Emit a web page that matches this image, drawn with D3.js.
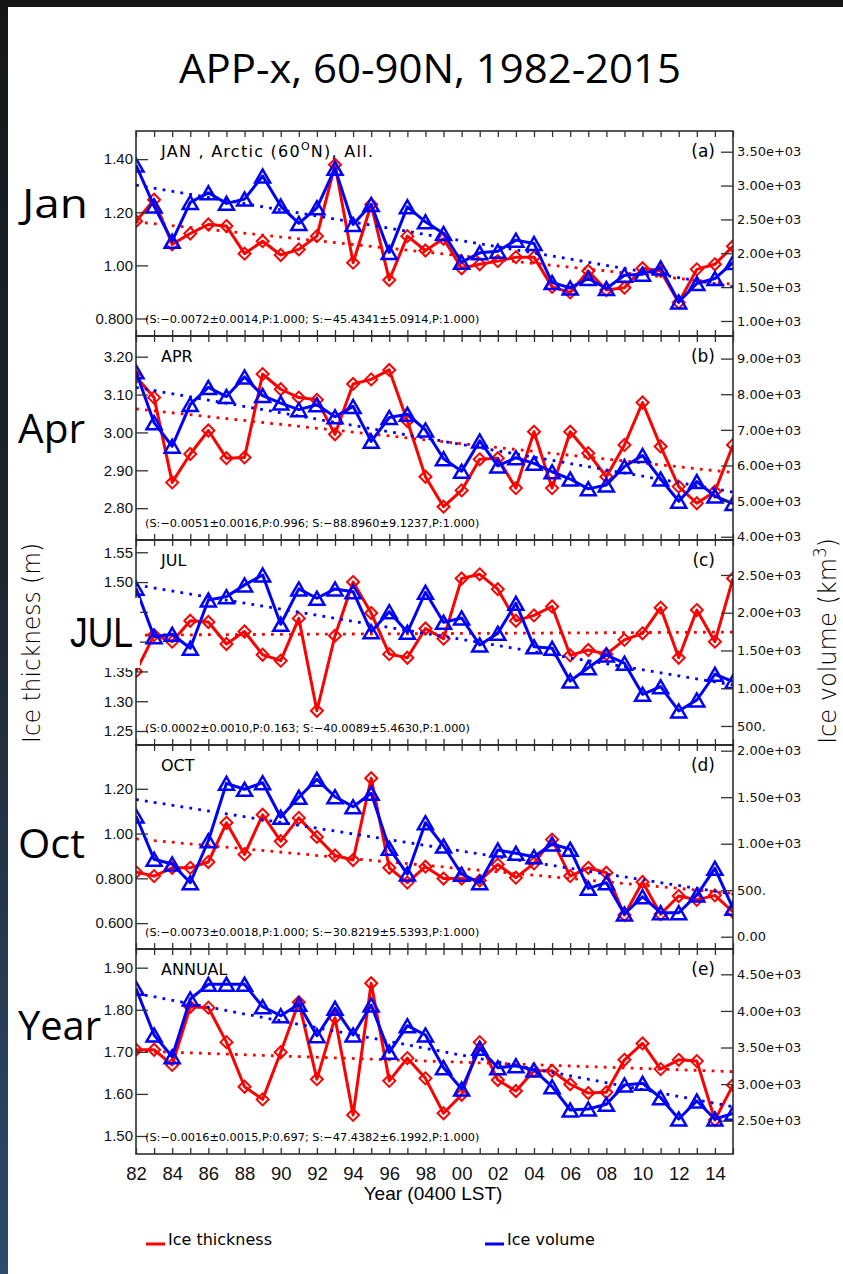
<!DOCTYPE html>
<html>
<head>
<meta charset="utf-8">
<script src="https://cdn.jsdelivr.net/npm/d3@7/dist/d3.min.js"></script>
<style>
  html, body { margin: 0; padding: 0; background: #fff; }
  svg { display: block; }
</style>
</head>
<body>
<svg id="chart"></svg>
<script>
// ---- data ----
const years = [1982, 1983, 1984, 1985, 1986, 1987, 1988, 1989, 1990, 1991, 1992, 1993, 1994, 1995, 1996, 1997, 1998,
  1999, 2000, 2001, 2002, 2003, 2004, 2005, 2006, 2007, 2008, 2009, 2010, 2011, 2012, 2013, 2014, 2015];
const xTickYears = [1982, 1984, 1986, 1988, 1990, 1992, 1994, 1996, 1998, 2000, 2002, 2004, 2006, 2008, 2010, 2012, 2014];
const xTickLabels = ["82", "84", "86", "88", "90", "92", "94", "96", "98", "00", "02", "04", "06", "08", "10", "12", "14"];

// (a) January
const janThickness = [1.166, 1.247, 1.079, 1.12, 1.154, 1.148, 1.044, 1.091, 1.039, 1.06, 1.11, 1.379, 1.01, 1.229, 0.945,
  1.11, 1.056, 1.10, 0.989, 1.004, 1.016, 1.031, 1.031, 0.919, 0.898, 0.979, 0.907, 0.916, 0.989, 0.979, 0.860, 0.985, 1.004, 1.072];
const janVolume = [3303, 2697, 2179, 2751, 2893, 2737, 2800, 3141, 2697, 2441, 2672, 3254, 2426, 2722, 2012, 2686, 2464,
  2293, 1868, 2006, 2031, 2194, 2145, 1568, 1488, 1627, 1479, 1676, 1691, 1784, 1281, 1553, 1627, 1864];
const janThickTrend = [1.164, 0.929];
const janVolTrend = [3007, 1503];

// (b) April
const aprThickness = [3.147, 3.092, 2.868, 2.943, 3.005, 2.932, 2.934, 3.154, 3.114, 3.092, 3.086, 2.995, 3.128, 3.140, 3.165,
  3.030, 2.883, 2.804, 2.847, 2.929, 2.932, 2.853, 3.002, 2.853, 3.002, 2.945, 2.883, 2.967, 3.079, 2.963, 2.857, 2.813, 2.844, 2.967];
const aprVolume = [8633, 7201, 6540, 7713, 8192, 7934, 8485, 7961, 7752, 7567, 7705, 7366, 7658, 6678, 7347, 7438, 6997,
  6190, 5840, 6690, 5989, 6218, 6061, 5824, 5620, 5344, 5455, 5970, 6281, 5620, 4997, 5548, 5143, 4931];
const aprThickTrend = [3.062, 2.894];
const aprVolTrend = [8192, 5254];

// (c) July
const julThickness = [1.350, 1.411, 1.400, 1.435, 1.433, 1.396, 1.417, 1.378, 1.368, 1.439, 1.284, 1.410, 1.500, 1.448, 1.379,
  1.373, 1.422, 1.405, 1.506, 1.513, 1.488, 1.435, 1.444, 1.459, 1.377, 1.386, 1.379, 1.403, 1.414, 1.457, 1.373, 1.453, 1.400, 1.506];
const julVolume = [2324, 1683, 1714, 1529, 2169, 2213, 2368, 2500, 1847, 2315, 2191, 2315, 2279, 1749, 2014, 1741, 2271,
  1873, 1930, 1573, 1728, 2125, 1550, 1529, 1096, 1272, 1440, 1331, 920, 1021, 699, 844, 1185, 1088];
const julThickTrend = [1.411, 1.416];
const julVolTrend = [2368, 1043];

// (d) October
const octThickness = [0.828, 0.810, 0.847, 0.847, 0.873, 1.048, 0.907, 1.084, 0.966, 1.070, 0.985, 0.902, 0.882, 1.247, 0.847,
  0.781, 0.852, 0.799, 0.799, 0.790, 0.862, 0.803, 0.867, 0.973, 0.810, 0.847, 0.825, 0.636, 0.784, 0.640, 0.721, 0.704, 0.724, 0.650];
const octVolume = [1298, 832, 782, 581, 1032, 1649, 1585, 1656, 1284, 1499, 1692, 1505, 1398, 1542, 950, 674, 1226,
  975, 672, 581, 932, 897, 860, 997, 940, 520, 581, 244, 430, 258, 258, 448, 735, 305];
const octThickTrend = [0.976, 0.733];
const octVolTrend = [1475, 458];

// (e) Annual
const annThickness = [1.705, 1.705, 1.669, 1.807, 1.805, 1.723, 1.617, 1.587, 1.699, 1.818, 1.635, 1.781, 1.550, 1.863, 1.631,
  1.685, 1.637, 1.554, 1.598, 1.723, 1.633, 1.607, 1.655, 1.655, 1.623, 1.602, 1.604, 1.681, 1.720, 1.659, 1.681, 1.678, 1.538, 1.621];
const annVolume = [4309, 3671, 3374, 4163, 4363, 4363, 4363, 4057, 3935, 4090, 3661, 4036, 3671, 4081, 3434, 3798, 3671,
  3224, 2933, 3489, 3224, 3251, 3193, 2965, 2646, 2660, 2724, 2988, 3011, 2814, 2523, 2769, 2523, 2601];
const annThickTrend = [1.702, 1.653];
const annVolTrend = [4240, 2691];

// axis ticks per panel
const janThickTicks = [0.8, 1.0, 1.2, 1.4], janThickLabels = ["0.800", "1.00", "1.20", "1.40"];
const janVolTicks = [1000, 1500, 2000, 2500, 3000, 3500], janVolLabels = ["1.00e+03", "1.50e+03", "2.00e+03", "2.50e+03", "3.00e+03", "3.50e+03"];
const aprThickTicks = [2.8, 2.9, 3.0, 3.1, 3.2], aprThickLabels = ["2.80", "2.90", "3.00", "3.10", "3.20"];
const aprVolTicks = [4000, 5000, 6000, 7000, 8000, 9000], aprVolLabels = ["4.00e+03", "5.00e+03", "6.00e+03", "7.00e+03", "8.00e+03", "9.00e+03"];
// 1.40 and 1.45 sit under the "JUL" label box in the figure
const julThickTicks = [1.25, 1.30, 1.35, 1.40, 1.45, 1.50, 1.55], julThickLabels = ["1.25", "1.30", "1.35", "", "", "1.50", "1.55"];
const julVolTicks = [500, 1000, 1500, 2000, 2500], julVolLabels = ["500.", "1.00e+03", "1.50e+03", "2.00e+03", "2.50e+03"];
const octThickTicks = [0.6, 0.8, 1.0, 1.2], octThickLabels = ["0.600", "0.800", "1.00", "1.20"];
const octVolTicks = [0, 500, 1000, 1500, 2000], octVolLabels = ["0.00", "500.", "1.00e+03", "1.50e+03", "2.00e+03"];
const annThickTicks = [1.5, 1.6, 1.7, 1.8, 1.9], annThickLabels = ["1.50", "1.60", "1.70", "1.80", "1.90"];
const annVolTicks = [2500, 3000, 3500, 4000, 4500], annVolLabels = ["2.50e+03", "3.00e+03", "3.50e+03", "4.00e+03", "4.50e+03"];

// ---- layout ----
const W = 843, H = 1274;
const plotLeft = 136, plotRight = 733;
const panelEdges = [131, 336, 540, 745, 949, 1154];
const RED = "#ff0000", BLUE = "#0000ff";

const panels = [
  { name: "JAN", tag: "(a)", thick: janThickness, vol: janVolume, thickTrend: janThickTrend, volTrend: janVolTrend,
    thickDomain: [0.734, 1.506], volDomain: [778, 3806],
    thickTicks: janThickTicks, thickLabels: janThickLabels, volTicks: janVolTicks, volLabels: janVolLabels,
    stats: "(S:\u22120.0072\u00b10.0014,P:1.000; S:\u221245.4341\u00b15.0914,P:1.000)" },
  { name: "APR", tag: "(b)", thick: aprThickness, vol: aprVolume, thickTrend: aprThickTrend, volTrend: aprVolTrend,
    thickDomain: [2.716, 3.2546], volDomain: [3909, 9634],
    thickTicks: aprThickTicks, thickLabels: aprThickLabels, volTicks: aprVolTicks, volLabels: aprVolLabels,
    stats: "(S:\u22120.0051\u00b10.0016,P:0.996; S:\u221288.8960\u00b19.1237,P:1.000)" },
  { name: "JUL", tag: "(c)", thick: julThickness, vol: julVolume, thickTrend: julThickTrend, volTrend: julVolTrend,
    thickDomain: [1.2265, 1.5706], volDomain: [248, 2963],
    thickTicks: julThickTicks, thickLabels: julThickLabels, volTicks: julVolTicks, volLabels: julVolLabels,
    stats: "(S:0.0002\u00b10.0010,P:0.163; S:\u221240.0089\u00b15.4630,P:1.000)" },
  { name: "OCT", tag: "(d)", thick: octThickness, vol: octVolume, thickTrend: octThickTrend, volTrend: octVolTrend,
    thickDomain: [0.4844, 1.3956], volDomain: [-132, 2061],
    thickTicks: octThickTicks, thickLabels: octThickLabels, volTicks: octVolTicks, volLabels: octVolLabels,
    stats: "(S:\u22120.0073\u00b10.0018,P:1.000; S:\u221230.8219\u00b15.5393,P:1.000)" },
  { name: "ANNUAL", tag: "(e)", thick: annThickness, vol: annVolume, thickTrend: annThickTrend, volTrend: annVolTrend,
    thickDomain: [1.4572, 1.9444], volDomain: [2045, 4846],
    thickTicks: annThickTicks, thickLabels: annThickLabels, volTicks: annVolTicks, volLabels: annVolLabels,
    stats: "(S:\u22120.0016\u00b10.0015,P:0.697; S:\u221247.4382\u00b16.1992,P:1.000)" }
];

const svg = d3.select("#chart").attr("width", W).attr("height", H);

// slide background with dark frame on top/left
const defs = svg.append("defs");
const grad = defs.append("linearGradient").attr("id", "edge").attr("x1", 0).attr("y1", 0).attr("x2", 0).attr("y2", 1);
grad.append("stop").attr("offset", "0%").attr("stop-color", "#161616");
grad.append("stop").attr("offset", "45%").attr("stop-color", "#1f2630");
grad.append("stop").attr("offset", "100%").attr("stop-color", "#2c4a6c");
svg.append("rect").attr("width", W).attr("height", H).attr("fill", "#fff");
svg.append("rect").attr("x", 0).attr("y", 0).attr("width", 8).attr("height", H).attr("fill", "url(#edge)");
svg.append("rect").attr("x", 0).attr("y", 0).attr("width", W).attr("height", 7).attr("fill", "#161616");

svg.append("text")
  .attr("x", 430).attr("y", 83)
  .attr("text-anchor", "middle")
  .attr("textLength", 502).attr("lengthAdjust", "spacingAndGlyphs")
  .style("font-family", "'Open Sans', sans-serif").style("font-size", "40px").style("fill", "#000")
  .text("APP-x, 60-90N, 1982-2015");

const x = d3.scaleLinear().domain([1982, 2015]).range([plotLeft, plotRight]);

const markerTri = "M-7.5,6.5L0,-6.5L7.5,6.5Z";
const markerDia = "M0,-6L6,0L0,6L-6,0Z";

panels.forEach((p, i) => {
  const top = panelEdges[i], bottom = panelEdges[i + 1];
  const yL = d3.scaleLinear().domain(p.thickDomain).range([bottom, top]);
  const yR = d3.scaleLinear().domain(p.volDomain).range([bottom, top]);
  const g = svg.append("g");

  defs.append("clipPath").attr("id", "clip" + i)
    .append("rect").attr("x", plotLeft).attr("y", top).attr("width", plotRight - plotLeft).attr("height", bottom - top);
  const plot = g.append("g").attr("clip-path", "url(#clip" + i + ")");

  const series = (vals, yScale, color, shape, sw) => {
    const pts = years.map((yr, k) => [x(yr), yScale(vals[k])]);
    plot.append("path").attr("d", d3.line()(pts))
      .attr("fill", "none").attr("stroke", color).attr("stroke-width", 3).attr("stroke-linejoin", "round");
    plot.selectAll(null).data(pts).enter().append("path")
      .attr("transform", d => "translate(" + d[0] + "," + d[1] + ")")
      .attr("d", shape).attr("fill", "none").attr("stroke", color).attr("stroke-width", sw);
  };
  const trend = (ends, yScale, color) => {
    plot.append("path")
      .attr("d", d3.line()([[x(1982), yScale(ends[0])], [x(2015), yScale(ends[1])]]))
      .attr("stroke", color).attr("stroke-width", 2.8).attr("stroke-dasharray", "2.8,6.2").attr("fill", "none");
  };

  series(p.thick, yL, RED, markerDia, 2);
  trend(p.thickTrend, yL, RED);
  series(p.vol, yR, BLUE, markerTri, 2.5);
  trend(p.volTrend, yR, BLUE);

  // frame
  g.append("rect").attr("x", plotLeft).attr("y", top).attr("width", plotRight - plotLeft).attr("height", bottom - top)
    .attr("fill", "none").attr("stroke", "#222").attr("stroke-width", 1.5);

  // year ticks on top and bottom
  g.append("g").attr("transform", "translate(0," + top + ")")
    .call(d3.axisBottom(x).tickValues(years).tickSizeInner(6).tickSizeOuter(0).tickFormat(""))
    .call(a => a.select(".domain").remove());
  g.append("g").attr("transform", "translate(0," + bottom + ")")
    .call(d3.axisTop(x).tickValues(years).tickSizeInner(6).tickSizeOuter(0).tickFormat(""))
    .call(a => a.select(".domain").remove());

  // left axis: thickness
  g.append("g").attr("transform", "translate(" + plotLeft + ",0)")
    .call(d3.axisLeft(yL).tickValues(p.thickTicks).tickFormat((d, k) => p.thickLabels[k])
      .tickSizeInner(-12).tickSizeOuter(0).tickPadding(3))
    .call(a => a.select(".domain").remove())
    .call(a => a.selectAll("text").style("font-family", "'Liberation Sans', Arial, sans-serif").style("font-size", "15px").attr("fill", "#111"));

  // right axis: volume
  g.append("g").attr("transform", "translate(" + plotRight + ",0)")
    .call(d3.axisRight(yR).tickValues(p.volTicks).tickFormat((d, k) => p.volLabels[k])
      .tickSizeInner(-12).tickSizeOuter(0).tickPadding(4))
    .call(a => a.select(".domain").remove())
    .call(a => a.selectAll("text").style("font-family", "'DejaVu Sans', sans-serif").style("font-size", "13px").attr("fill", "#111"));

  g.selectAll(".tick line").attr("stroke", "#333").attr("stroke-width", 1.3);

  // panel annotations
  const title = g.append("text").attr("x", 161).attr("y", top + 26)
    .style("font-family", "'DejaVu Sans', sans-serif").style("font-size", "16px").attr("fill", "#000");
  if (p.name === "JAN") {
    title.attr("textLength", 212);
    title.append("tspan").text("JAN , Arctic (60");
    title.append("tspan").attr("dy", -7).style("font-size", "11px").text("O");
    title.append("tspan").attr("dy", 7).text("N), All.");
  } else {
    title.text(p.name);
  }
  g.append("text").attr("x", 715).attr("y", top + 26).attr("text-anchor", "end")
    .style("font-family", "'DejaVu Sans', sans-serif").style("font-size", "17px").attr("fill", "#000")
    .text(p.tag);
  g.append("text").attr("x", 145).attr("y", bottom - 13)
    .style("font-family", "'DejaVu Sans', sans-serif").style("font-size", "11.3px").attr("fill", "#000")
    .text(p.stats);
});

// bottom year labels
svg.append("g").attr("transform", "translate(0," + panelEdges[5] + ")")
  .call(d3.axisBottom(x).tickValues(xTickYears).tickFormat((d, k) => xTickLabels[k]).tickSize(0).tickPadding(13))
  .call(a => a.select(".domain").remove())
  .call(a => a.selectAll("text").style("font-family", "'Liberation Sans', Arial, sans-serif").style("font-size", "18.5px").attr("fill", "#111"));

svg.append("text").attr("x", 433).attr("y", 1200).attr("text-anchor", "middle")
  .style("font-family", "'Liberation Sans', Arial, sans-serif").style("font-size", "19px").attr("fill", "#000")
  .text("Year (0400 LST)");

// axis titles
svg.append("text").attr("transform", "translate(40,643) rotate(-90)").attr("text-anchor", "middle")
  .attr("textLength", 200).attr("lengthAdjust", "spacingAndGlyphs")
  .style("font-family", "'DejaVu Sans', sans-serif").style("font-size", "25px").style("font-weight", 300).attr("fill", "#000")
  .text("Ice thickness (m)");
const volTitle = svg.append("text").attr("transform", "translate(836,641) rotate(-90)").attr("text-anchor", "middle")
  .attr("textLength", 206).attr("lengthAdjust", "spacingAndGlyphs")
  .style("font-family", "'DejaVu Sans', sans-serif").style("font-size", "25px").style("font-weight", 300).attr("fill", "#000");
volTitle.append("tspan").text("Ice volume (km");
volTitle.append("tspan").attr("dy", -10).style("font-size", "17px").text("3");
volTitle.append("tspan").attr("dy", 10).text(")");

// month labels on the left
const sideLabels = [["Jan", 22, 218, 66], ["Apr", 18, 443, 67], ["Oct", 18, 858, 67], ["Year", 18, 1040, 83]];
sideLabels.forEach(([t, lx, ly, len]) => {
  svg.append("text").attr("x", lx).attr("y", ly)
    .attr("textLength", len).attr("lengthAdjust", "spacingAndGlyphs")
    .style("font-family", "'Open Sans', sans-serif").style("font-size", "40px").attr("fill", "#000").text(t);
});
svg.append("rect").attr("x", 63).attr("y", 598).attr("width", 77).attr("height", 70).attr("fill", "#fff");
svg.append("text").attr("x", 70).attr("y", 647)
  .attr("textLength", 63).attr("lengthAdjust", "spacingAndGlyphs")
  .style("font-family", "'Liberation Sans', Arial, sans-serif").style("font-size", "42px").attr("fill", "#000").text("JUL");

// legend
const legend = [["Ice thickness", RED, 146], ["Ice volume", BLUE, 485]];
legend.forEach(([t, c, lx]) => {
  svg.append("line").attr("x1", lx).attr("x2", lx + 19).attr("y1", 1244).attr("y2", 1244)
    .attr("stroke", c).attr("stroke-width", 3);
  svg.append("text").attr("x", lx + 22).attr("y", 1245).attr("fill", "#000")
    .style("font-family", "'DejaVu Sans', sans-serif").style("font-size", "16px").text(t);
});
</script>
</body>
</html>
